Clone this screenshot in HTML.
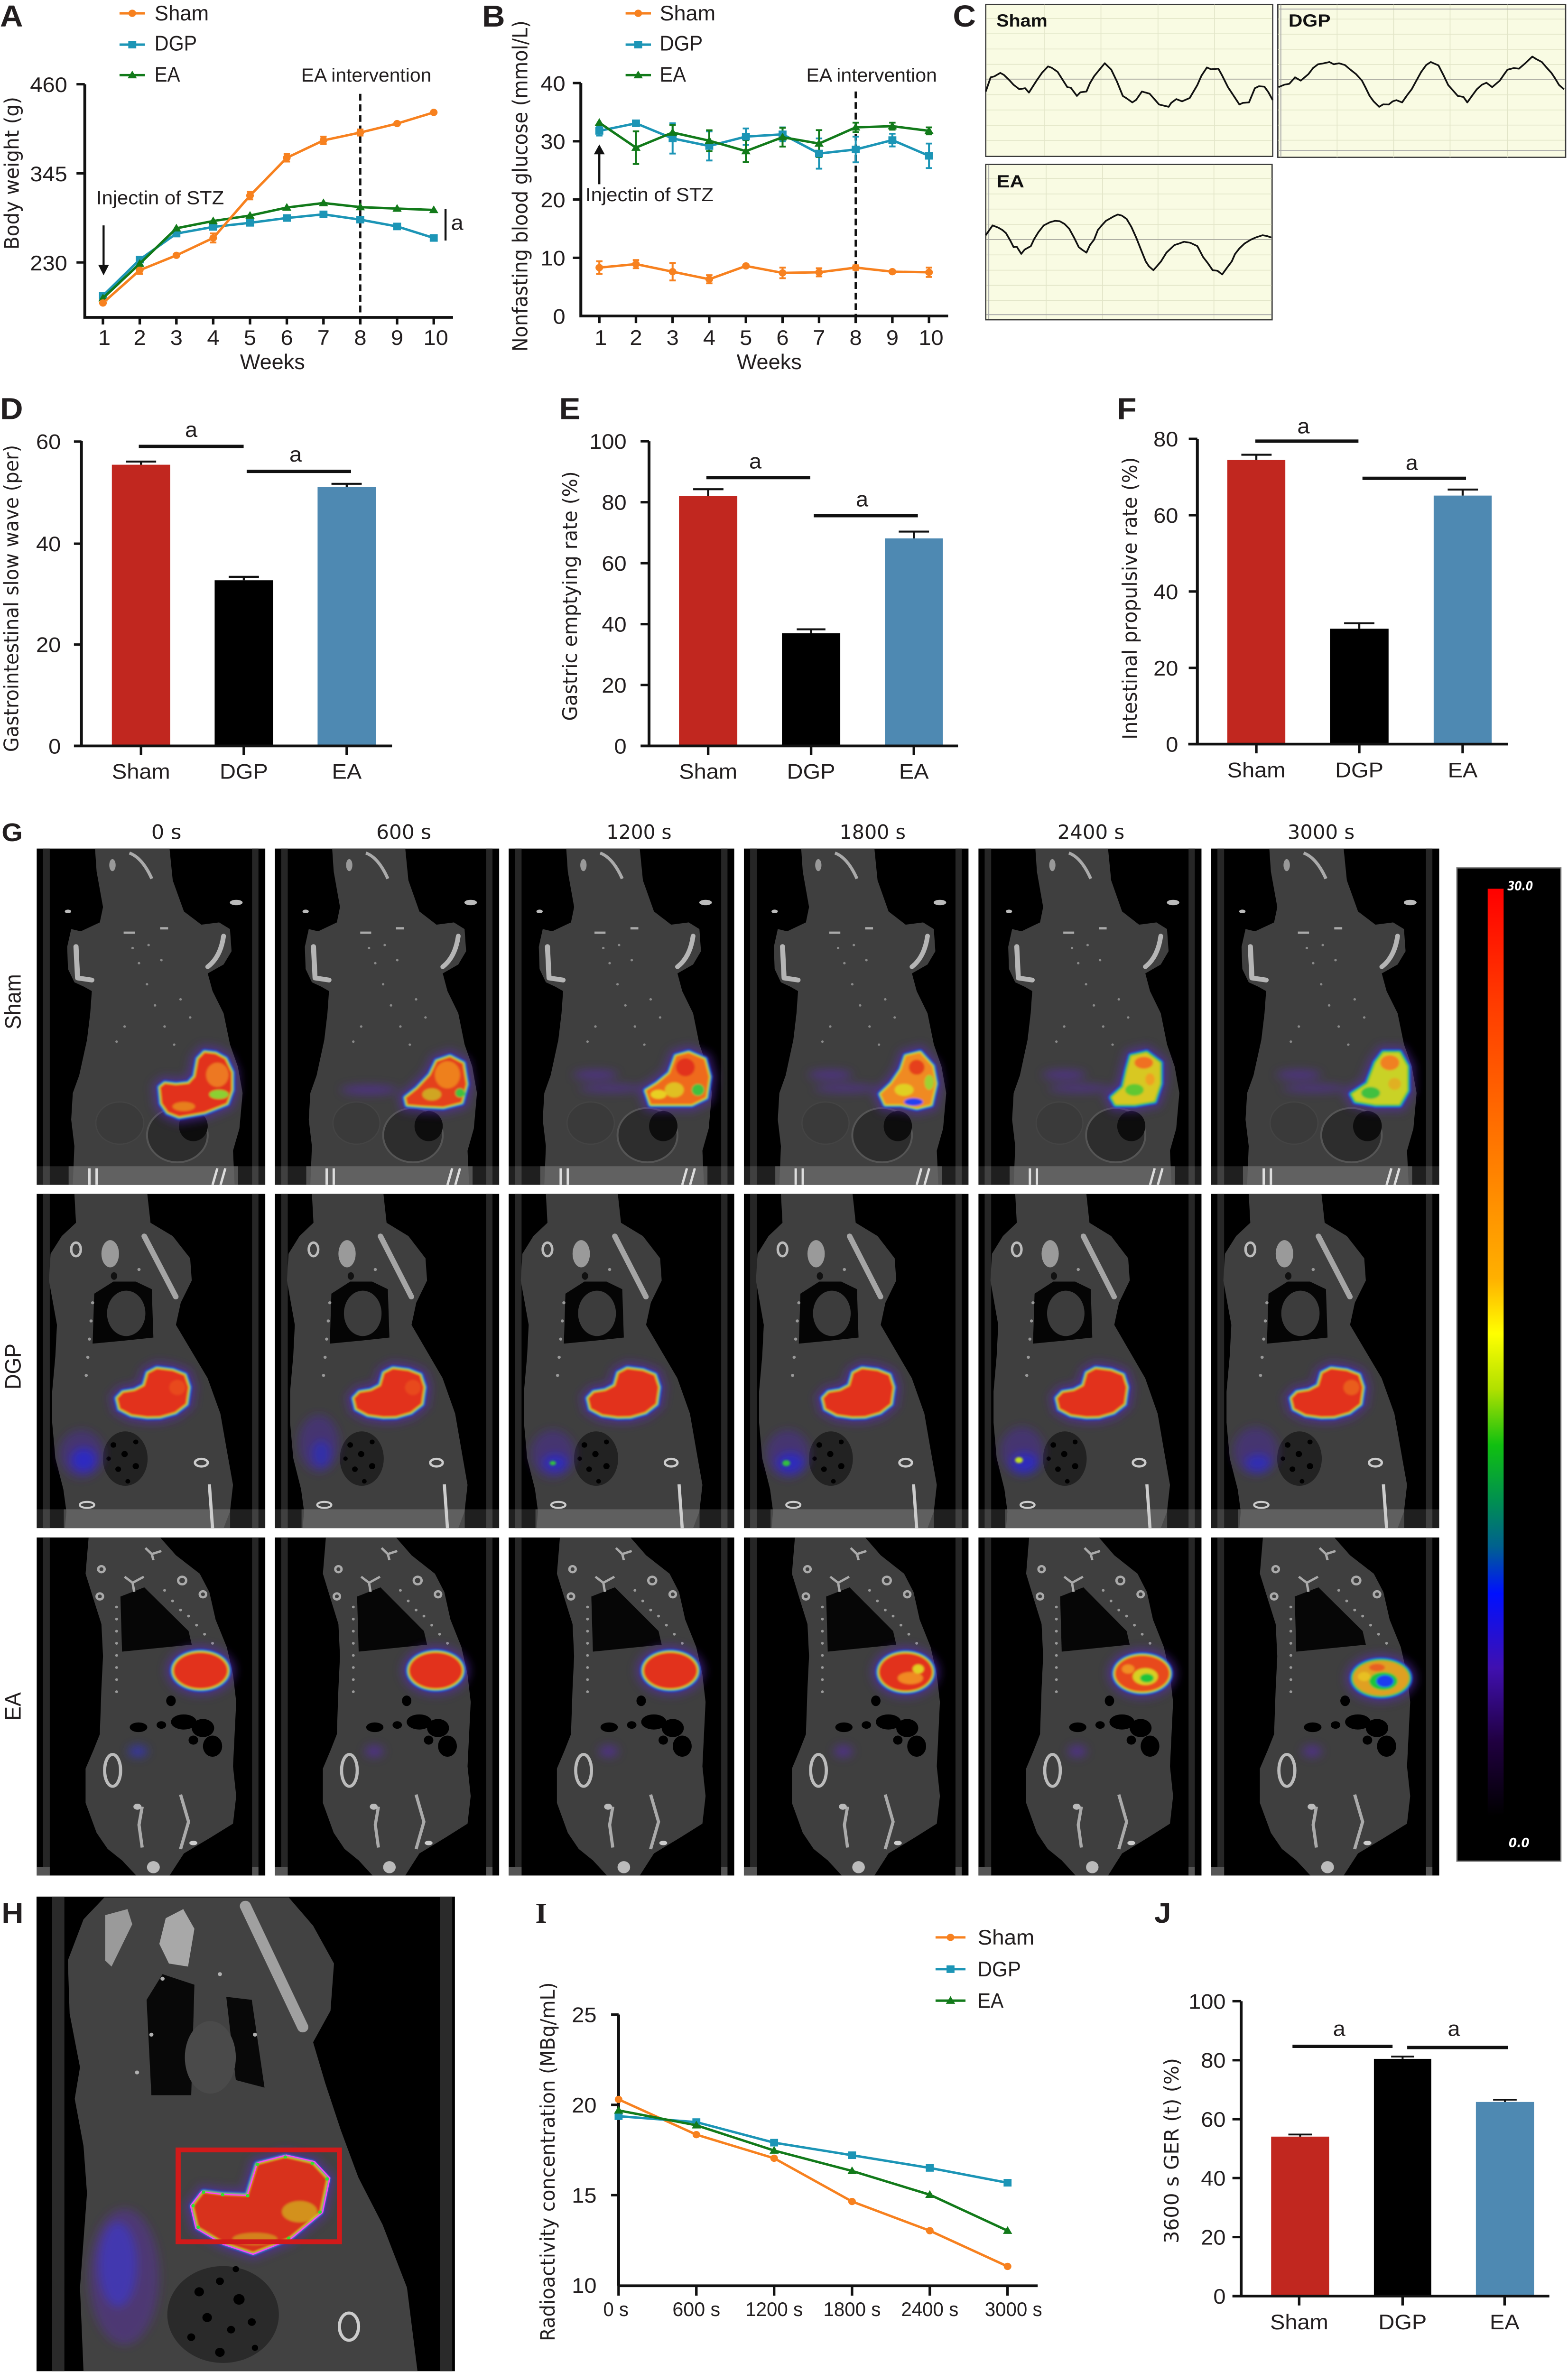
<!DOCTYPE html>
<html><head><meta charset="utf-8">
<style>
html,body{margin:0;padding:0;width:100%;height:100%;overflow:hidden;background:#fff}
svg.main{display:block;position:fixed;left:0;top:0;width:100vw;height:100vh}
.t{font-family:"Liberation Sans",Arial,sans-serif;fill:#221e1f}
.v{font-family:"DejaVu Sans",Verdana,sans-serif;fill:#221e1f}
.pl{font-family:"Liberation Sans",Arial,sans-serif;font-weight:bold;fill:#221e1f}
</style></head>
<body>
<svg class="main" xmlns="http://www.w3.org/2000/svg" xmlns:xlink="http://www.w3.org/1999/xlink" viewBox="0 0 984 1568" preserveAspectRatio="none">
<defs>
<filter id="f1" x="-30%" y="-30%" width="160%" height="160%"><feGaussianBlur stdDeviation="0.7"/></filter>
<filter id="f2" x="-60%" y="-60%" width="220%" height="220%"><feGaussianBlur stdDeviation="3"/></filter>
<marker id="mO" viewBox="-4 -4 8 8" markerWidth="8" markerHeight="8" markerUnits="userSpaceOnUse" overflow="visible"><circle r="2.4" fill="#f7811f"/></marker>
<marker id="mB" viewBox="-4 -4 8 8" markerWidth="8" markerHeight="8" markerUnits="userSpaceOnUse" overflow="visible"><rect x="-2.5" y="-2.5" width="5" height="5" fill="#1c95b6"/></marker>
<marker id="mG" viewBox="-4 -4 8 8" markerWidth="8" markerHeight="8" markerUnits="userSpaceOnUse" overflow="visible"><polygon points="0,-3 2.9,2.1 -2.9,2.1" fill="#127a1a"/></marker>
<linearGradient id="cb" x1="0" y1="0" x2="0" y2="1">
<stop offset="0" stop-color="#ff0000"/><stop offset=".12" stop-color="#ff3a00"/><stop offset=".3" stop-color="#ff8000"/>
<stop offset=".42" stop-color="#ffb000"/><stop offset=".48" stop-color="#ffff00"/><stop offset=".54" stop-color="#b0e000"/>
<stop offset=".6" stop-color="#10c010"/><stop offset=".66" stop-color="#009050"/><stop offset=".71" stop-color="#006090"/>
<stop offset=".76" stop-color="#0010ff"/><stop offset=".84" stop-color="#4010b0"/><stop offset=".92" stop-color="#200040"/>
<stop offset="1" stop-color="#000"/>
</linearGradient>
<clipPath id="cS"><rect width="143" height="223"/></clipPath>
<clipPath id="cD"><rect width="143" height="221"/></clipPath>
<clipPath id="cE"><rect width="143" height="223.5"/></clipPath>
<clipPath id="cH"><rect x="22.9" y="1253.7" width="262.6" height="313.8"/></clipPath>

<!-- Sham body -->
<g id="bS">
<rect width="143" height="223" fill="#000"/>
<rect x="4" width="4.2" height="223" fill="#262626"/><rect x="134.7" width="4" height="223" fill="#262626"/>
<polygon fill="#3f3f3f" points="36.5,0 37.5,15.3 41.5,38.8 39.5,49 27.6,54.9 21.6,53.4 19.1,65.2 19.6,79.9 23.6,88.7 29.6,91.6 34.5,94.5 33.5,109.2 31.5,126.8 26.6,150.4 22.6,162.1 21.6,179.7 23.6,197.3 22.6,223 123.8,223 122.8,200.3 126.8,185.6 128.8,162.1 125.8,144.5 120.9,129.8 116.9,109.2 110,94.5 107,82.8 116.9,76.9 121.9,68.1 120.9,53.4 114.1,49 103,50.5 92.1,41.7 85.1,21.1 83.1,0"/>
<rect y="210.6" width="143" height="12.4" fill="#fff" opacity=".12"/>
<rect x="20" y="210.6" width="106" height="12.4" fill="#666" opacity=".75"/>
<path d="M24.6,65 L25.6,85.8 L34.5,87.2" stroke="#b5b5b5" stroke-width="3.2" fill="none" stroke-linecap="round" stroke-linejoin="round"/>
<path d="M116.9,58 Q115,72 107,78.4" stroke="#b5b5b5" stroke-width="3" fill="none" stroke-linecap="round"/>
<ellipse cx="19.6" cy="41.7" rx="2" ry="1.2" fill="#bbb"/><ellipse cx="124.8" cy="35.8" rx="4" ry="1.8" fill="#bbb"/>
<ellipse cx="47.4" cy="11" rx="2" ry="4" fill="#999"/>
<path d="M58,3 Q66,6 72,20" stroke="#aaa" stroke-width="2" fill="none"/>
<path d="M54.4,55.8h7 M77.2,52.9h5" stroke="#aaa" stroke-width="1.5"/>
<g fill="#8a8a8a"><circle cx="60" cy="66" r=".8"/><circle cx="64" cy="76" r=".8"/><circle cx="69" cy="90" r=".8"/><circle cx="74" cy="104" r=".8"/><circle cx="80" cy="118" r=".8"/><circle cx="86" cy="130" r=".8"/><circle cx="70" cy="64" r=".8"/><circle cx="78" cy="74" r=".8"/><circle cx="90" cy="100" r=".8"/><circle cx="96" cy="112" r=".8"/><circle cx="55" cy="118" r=".8"/><circle cx="50" cy="128" r=".8"/></g>
<ellipse cx="88" cy="190" rx="19" ry="18" fill="#2d2d2d" stroke="#555" stroke-width="1.2"/>
<ellipse cx="98" cy="184" rx="9" ry="10" fill="#0d0d0d"/>
<ellipse cx="52" cy="182" rx="15" ry="14" fill="#3a3a3a" stroke="#444" stroke-width="0.8"/>
<path d="M33,212v11M37.5,212v11M113,212l-3,11M118,212l-3,11" stroke="#ddd" stroke-width="1.5"/>
</g>

<!-- DGP body -->
<g id="bD">
<rect width="143" height="221" fill="#000"/>
<rect x="4" width="4.2" height="221" fill="#262626"/><rect x="134.7" width="4" height="221" fill="#262626"/>
<polygon fill="#3f3f3f" points="23.6,0 24.6,19.1 15.7,27.9 8.7,39.6 7.7,57.3 10.7,74.9 12.7,86.6 11.7,107.2 9.7,130.7 9.7,151.2 11.7,174.7 16.7,195.3 18.6,210 17.7,221 116.9,221 120.9,210 122.8,192.4 119.8,174.7 114.9,145.3 106.9,121.8 97,104.2 87.1,86.6 90.1,72 97,57.3 96,42.6 85.1,27.9 71.2,19.1 69.2,0"/>
<polygon fill="#050505" points="36,66 48,58 62,58 72,63 73,95 55,97 35,99"/>
<ellipse cx="56" cy="79" rx="12" ry="15" fill="#3c3c3c"/>
<ellipse cx="24.6" cy="36.7" rx="3" ry="4.5" stroke="#bbb" stroke-width="1.6" fill="none"/>
<ellipse cx="46" cy="39.6" rx="5.5" ry="9" fill="#9a9a9a"/>
<ellipse cx="48.4" cy="54.3" rx="2" ry="2.5" fill="#111"/>
<path d="M67.3,28 L87,68" stroke="#a5a5a5" stroke-width="3.5" stroke-linecap="round"/>
<g fill="#999"><circle cx="35" cy="72" r="1"/><circle cx="34" cy="84" r="1"/><circle cx="33" cy="96" r="1"/><circle cx="32" cy="108" r="1"/><circle cx="31" cy="120" r="1"/><circle cx="64" cy="50" r="1"/></g>
<ellipse cx="55.4" cy="175" rx="14" ry="18" fill="#222"/>
<g fill="#000"><circle cx="48" cy="166" r="1.8"/><circle cx="55" cy="172" r="2"/><circle cx="62" cy="164" r="1.6"/><circle cx="51" cy="182" r="1.8"/><circle cx="62" cy="180" r="2"/><circle cx="57" cy="190" r="1.5"/><circle cx="45" cy="175" r="1.4"/></g>
<ellipse cx="103" cy="177.7" rx="4" ry="2.5" stroke="#ccc" stroke-width="1.5" fill="none"/>
<rect y="208.5" width="143" height="12.5" fill="#fff" opacity=".12"/>
<rect x="17" y="208.5" width="104" height="12.5" fill="#666" opacity=".6"/>
<ellipse cx="31.5" cy="205.6" rx="4.5" ry="2" stroke="#ccc" stroke-width="1.3" fill="none"/>
<path d="M108,192 L110,221" stroke="#ccc" stroke-width="2"/>
</g>

<!-- EA body -->
<g id="bE">
<rect width="143" height="223.5" fill="#000"/>
<rect x="4" width="4.2" height="223.5" fill="#262626"/><rect x="134.7" width="4" height="223.5" fill="#262626"/>
<polygon fill="#3f3f3f" points="32.5,0 30.6,24 35.5,40.6 40.5,57.3 41.5,78.5 40.5,99.8 39.5,130.1 35.5,140.7 30.6,152.8 30.6,175.5 37.5,195.3 44.4,205.9 53.4,213.5 62.3,223.5 83.1,223.5 92.1,208.9 108.9,198.3 122.8,189.2 124.8,171 122.8,151.3 123.8,130.1 124.8,108.8 122.8,90.7 118.9,72.5 111.9,54.3 108,36.1 102,24 87.1,11.8 77.2,0"/>
<polygon fill="#060606" points="52.4,39.1 67.3,33 95,61.9 97,70.9 53.4,75.5"/>
<g stroke="#aaa" stroke-width="1.5" fill="none"><circle cx="40.5" cy="21" r="2"/><circle cx="39.5" cy="39" r="2"/><circle cx="91" cy="28.5" r="2.5"/><circle cx="104" cy="37.6" r="2"/><path d="M55,26 L60,30 L67,26 M60,30 L61,36"/><path d="M68,7 L72,11 L78,9 M72,11 L73,15"/></g>
<g fill="#999"><circle cx="50" cy="46" r=".9"/><circle cx="50" cy="54" r=".9"/><circle cx="50" cy="62" r=".9"/><circle cx="50" cy="70" r=".9"/><circle cx="50" cy="78" r=".9"/><circle cx="50" cy="86" r=".9"/><circle cx="50" cy="94" r=".9"/><circle cx="50" cy="102" r=".9"/><circle cx="80" cy="35" r=".9"/><circle cx="85" cy="42" r=".9"/><circle cx="90" cy="48" r=".9"/><circle cx="95" cy="52" r=".9"/><circle cx="100" cy="58" r=".9"/><circle cx="105" cy="64" r=".9"/><circle cx="110" cy="70" r=".9"/></g>
<g fill="#000"><ellipse cx="63.7" cy="125.5" rx="5.5" ry="3.2"/><ellipse cx="92" cy="122" rx="8" ry="5"/><ellipse cx="104" cy="126" rx="7" ry="6"/><ellipse cx="110" cy="138" rx="6" ry="7"/><ellipse cx="98" cy="134" rx="3" ry="3"/><ellipse cx="84" cy="108" rx="3" ry="3.5"/><ellipse cx="78" cy="124" rx="3" ry="2.5"/></g>
<ellipse cx="47.5" cy="154" rx="5" ry="10.5" stroke="#bbb" stroke-width="2" fill="none"/>
<path d="M90,170 L95,188 L90,206 M66,178 L64,190 L66,205" stroke="#aaa" stroke-width="2" fill="none"/>
<ellipse cx="63" cy="178" rx="2.5" ry="2" fill="#bbb"/><ellipse cx="98" cy="202" rx="2.5" ry="1.5" fill="#ccc"/><ellipse cx="73" cy="218" rx="4" ry="4" fill="#bbb"/>
<rect y="218" width="8.2" height="5.5" fill="#555"/><rect x="134.7" y="218" width="4" height="5.5" fill="#555"/>
</g>

<!-- blob shapes -->
<path id="s1" d="M77.2,158.3 L80.2,155.7 87.1,156.6 95.1,155.7 99,151.2 101,139.5 105,135.1 111.9,136 117.9,139.5 121.9,148.4 121.9,160.1 118.9,168.9 111.9,171.9 105,174.8 97,176.3 89.1,177.7 82.1,174.8 78.2,168.9Z"/>
<path id="s2" d="M83.4,165.2 L90.7,159.2 99,150.1 103.2,141 111.6,138 119.9,142.5 122,156.2 118.9,168.3 107.4,171.3 94.8,170.7 84.4,169.8Z"/>
<path id="s3" d="M87.1,160.5 L94.1,155.9 102.1,149 106.1,137.6 114.1,135.3 124.1,139.8 127,151.3 125,165 116,169.6 102.1,169.6 90.1,169.6Z"/>
<path id="s4" d="M87.1,162.8 L94.1,155.9 100.1,146.7 103.1,137.6 112.1,135.3 120,144.4 122,155.9 119,169.6 110.1,171.9 100.1,169.6 90.1,169.6Z"/>
<path id="s5" d="M85.5,165 L92.9,158.2 95.4,146.7 97.9,137.6 107.8,135.3 116.5,142.1 116.5,155.9 112.8,167.4 100.4,169.6 88,169.6Z"/>
<path id="s6" d="M88.2,162.8 L98.1,155.9 103.1,142.1 108,135.3 118,135.3 122.9,144.4 122.9,160.5 118,169.6 103.1,169.6 90.6,167.4Z"/>
<path id="dg" d="M50.4,135.1 L54,131.2 61.3,130 67.3,126.8 69.6,118.5 75.2,115.5 85.1,116.8 92.5,119.8 95,127.8 93.5,138.8 86.6,144.4 77.2,147.2 69.2,147.4 59.3,146 52,142Z"/>
<ellipse id="e1" cx="102.5" cy="88" rx="17" ry="12"/>
<ellipse id="e4" cx="103" cy="89" rx="17" ry="12.5"/>
<ellipse id="e5" cx="105" cy="90" rx="17.5" ry="12"/>
<ellipse id="e6" cx="106.5" cy="93" rx="17.5" ry="11.5"/>
<path id="hb" d="M121.2,1458.1 L127.7,1449.2 139.7,1450.8 155.4,1451.5 161.5,1430.7 179,1425.9 196,1430 205.2,1440.4 200.8,1462.3 181.2,1479.5 158.9,1488.9 140.8,1482.5 124.4,1472.3Z"/>
</defs>

<!-- ============ A ============ -->
<text class="pl" x="0" y="17.5" font-size="20">A</text>
<g stroke-width="1.6">
<line x1="75" y1="8.8" x2="91" y2="8.8" stroke="#f7811f"/><circle cx="83" cy="8.8" r="2.4" fill="#f7811f"/>
<line x1="75" y1="29.5" x2="91" y2="29.5" stroke="#1c95b6"/><rect x="80.5" y="27" width="5" height="5" fill="#1c95b6"/>
<line x1="75" y1="49.7" x2="91" y2="49.7" stroke="#127a1a"/><polygon points="83,46.7 85.9,51.8 80.1,51.8" fill="#127a1a"/>
</g>
<text class="t" x="97" y="13.5" font-size="14" textLength="34" lengthAdjust="spacingAndGlyphs">Sham</text>
<text class="t" x="97" y="33.4" font-size="14" textLength="26.6" lengthAdjust="spacingAndGlyphs">DGP</text>
<text class="t" x="97" y="54" font-size="14" textLength="16" lengthAdjust="spacingAndGlyphs">EA</text>
<path d="M53.2,55.7 V209.8 H284.3" stroke="#111" stroke-width="1.8" fill="none"/>
<path d="M48,55.7H53.2M48,114.6H53.2M48,173.5H53.2 M64.6,209.8V214.5M87.7,209.8V214.5M110.7,209.8V214.5M133.8,209.8V214.5M156.9,209.8V214.5M180,209.8V214.5M203,209.8V214.5M226.1,209.8V214.5M249.2,209.8V214.5M272.2,209.8V214.5" stroke="#111" stroke-width="1.6"/>
<g class="t" font-size="14" text-anchor="end"><text x="42.2" y="60.9">460</text><text x="42.2" y="119.8">345</text><text x="42.2" y="178.7">230</text></g>
<g class="t" font-size="14" text-anchor="middle"><text x="65.5" y="228">1</text><text x="87.7" y="228">2</text><text x="110.7" y="228">3</text><text x="133.8" y="228">4</text><text x="156.9" y="228">5</text><text x="180" y="228">6</text><text x="203" y="228">7</text><text x="226.1" y="228">8</text><text x="249.2" y="228">9</text><text x="273.5" y="228">10</text></g>
<text class="t" x="171" y="244" font-size="14" text-anchor="middle" textLength="40.8" lengthAdjust="spacingAndGlyphs">Weeks</text>
<text class="v" transform="translate(11.7,114.5) rotate(-90)" font-size="12.5" text-anchor="middle" textLength="101" lengthAdjust="spacingAndGlyphs">Body weight (g)</text>
<line x1="226.1" y1="62" x2="226.1" y2="209.8" stroke="#111" stroke-width="1.4" stroke-dasharray="4.5,2.5"/>
<text class="t" x="189" y="54" font-size="12.5" textLength="81.7" lengthAdjust="spacingAndGlyphs">EA intervention</text>
<text class="t" x="60.4" y="135" font-size="12.5" textLength="80.2" lengthAdjust="spacingAndGlyphs">Injectin of STZ</text>
<line x1="65" y1="149" x2="65" y2="176" stroke="#111" stroke-width="1.3"/><polygon points="61.6,175 68.4,175 65,182" fill="#111"/>
<line x1="279.6" y1="138" x2="279.6" y2="159" stroke="#111" stroke-width="1.3"/>
<text class="t" x="283" y="152" font-size="14">a</text>
<path d="M87.7,176.1V181.1M85.7,176.1h4M85.7,181.1h4 M133.8,154.3V160.3M131.8,154.3h4M131.8,160.3h4 M156.9,126.8V131.8M154.9,126.8h4M154.9,131.8h4 M180,101.8V106.8M178,101.8h4M178,106.8h4 M203,90.3V95.3M201,90.3h4M201,95.3h4 M226.1,85.6V89.6M224.1,85.6h4M224.1,89.6h4" stroke="#f7811f" stroke-width="1.2" fill="none"/>
<polyline fill="none" stroke="#1c95b6" stroke-width="1.6" marker-start="url(#mB)" marker-mid="url(#mB)" marker-end="url(#mB)" points="64.6,195.5 87.7,171.6 110.7,154.4 133.8,150 156.9,147.3 180,144.1 203,141.7 226.1,145.2 249.2,149.7 272.2,157.3"/>
<polyline fill="none" stroke="#127a1a" stroke-width="1.6" marker-start="url(#mG)" marker-mid="url(#mG)" marker-end="url(#mG)" points="64.6,197.1 87.7,174.3 110.7,150.9 133.8,146.1 156.9,142.5 180,137.2 203,134.2 226.1,136.9 249.2,137.9 272.2,138.8"/>
<polyline fill="none" stroke="#f7811f" stroke-width="1.6" marker-start="url(#mO)" marker-mid="url(#mO)" marker-end="url(#mO)" points="64.6,200.3 87.7,178.6 110.7,168.8 133.8,157.3 156.9,129.3 180,104.3 203,92.8 226.1,87.6 249.2,81.7 272.2,74.3"/>

<!-- ============ B ============ -->
<text class="pl" x="302.5" y="17.5" font-size="20">B</text>
<g stroke-width="1.6">
<line x1="392.6" y1="8.8" x2="408.5" y2="8.8" stroke="#f7811f"/><circle cx="400.5" cy="8.8" r="2.4" fill="#f7811f"/>
<line x1="392.6" y1="29.5" x2="408.5" y2="29.5" stroke="#1c95b6"/><rect x="398" y="27" width="5" height="5" fill="#1c95b6"/>
<line x1="392.6" y1="49.7" x2="408.5" y2="49.7" stroke="#127a1a"/><polygon points="400.5,46.7 403.4,51.8 397.6,51.8" fill="#127a1a"/>
</g>
<text class="t" x="414" y="13.5" font-size="14" textLength="35" lengthAdjust="spacingAndGlyphs">Sham</text>
<text class="t" x="414" y="33.4" font-size="14" textLength="27" lengthAdjust="spacingAndGlyphs">DGP</text>
<text class="t" x="414" y="54" font-size="14" textLength="16.5" lengthAdjust="spacingAndGlyphs">EA</text>
<path d="M364.5,54.9 V208.9 H595" stroke="#111" stroke-width="1.8" fill="none"/>
<path d="M359.5,54.9H364.5M359.5,93.4H364.5M359.5,131.9H364.5M359.5,170.4H364.5 M376.1,208.9V213.6M399.1,208.9V213.6M422.1,208.9V213.6M445.1,208.9V213.6M468.1,208.9V213.6M491.1,208.9V213.6M514,208.9V213.6M537,208.9V213.6M560,208.9V213.6M583,208.9V213.6" stroke="#111" stroke-width="1.6"/>
<g class="t" font-size="14" text-anchor="end"><text x="354.8" y="60">40</text><text x="354.8" y="98.5">30</text><text x="354.8" y="137">20</text><text x="354.8" y="175.5">10</text><text x="354.8" y="214">0</text></g>
<g class="t" font-size="14" text-anchor="middle"><text x="377" y="228">1</text><text x="399.1" y="228">2</text><text x="422.1" y="228">3</text><text x="445.1" y="228">4</text><text x="468.1" y="228">5</text><text x="491.1" y="228">6</text><text x="514" y="228">7</text><text x="537" y="228">8</text><text x="560" y="228">9</text><text x="584.3" y="228">10</text></g>
<text class="t" x="482.7" y="244" font-size="14" text-anchor="middle" textLength="40.8" lengthAdjust="spacingAndGlyphs">Weeks</text>
<text class="v" transform="translate(331,123) rotate(-90)" font-size="13" text-anchor="middle" textLength="218.9" lengthAdjust="spacingAndGlyphs">Nonfasting blood glucose (mmol/L)</text>
<line x1="537" y1="60.5" x2="537" y2="208.9" stroke="#111" stroke-width="1.4" stroke-dasharray="4.5,2.5"/>
<text class="t" x="506" y="54" font-size="12.5" textLength="82" lengthAdjust="spacingAndGlyphs">EA intervention</text>
<text class="t" x="367.4" y="133" font-size="12.5" textLength="80.4" lengthAdjust="spacingAndGlyphs">Injectin of STZ</text>
<line x1="376.1" y1="121.8" x2="376.1" y2="101" stroke="#111" stroke-width="1.3"/><polygon points="372.7,102 379.5,102 376.1,95.5" fill="#111"/>
<path d="M376.1,172.7V181.1M374.1,172.7h4M374.1,181.1h4 M399.1,171.9V177.3M397.1,171.9h4M397.1,177.3h4 M422.1,173.8V185.4M420.1,173.8h4M420.1,185.4h4 M445.1,181.9V187.3M443.1,181.9h4M443.1,187.3h4 M491.1,176.9V183.9M489.1,176.9h4M489.1,183.9h4 M514,177.3V182.7M512,177.3h4M512,182.7h4 M537,175.4V178.4M535,175.4h4M535,178.4h4 M583,176.9V183.1M581,176.9h4M581,183.1h4" stroke="#f7811f" stroke-width="1.2" fill="none"/>
<path d="M376.1,83.4V89.6M374.1,83.4h4M374.1,89.6h4 M422.1,81.5V101.5M420.1,81.5h4M420.1,101.5h4 M445.1,86.9V106.1M443.1,86.9h4M443.1,106.1h4 M468.1,84.9V95.7M466.1,84.9h4M466.1,95.7h4 M491.1,84.2V93.4M489.1,84.2h4M489.1,93.4h4 M514,91.5V111.5M512,91.5h4M512,111.5h4 M537,90.3V107.3M535,90.3h4M535,107.3h4 M560,88.4V96.8M558,88.4h4M558,96.8h4 M583,94.9V111.1M581,94.9h4M581,111.1h4" stroke="#1c95b6" stroke-width="1.2" fill="none"/>
<path d="M399.1,86.8V108.4M397.1,86.8h4M397.1,108.4h4 M422.1,82.6V92.6M420.1,82.6h4M420.1,92.6h4 M445.1,86.1V99.9M443.1,86.1h4M443.1,99.9h4 M468.1,92.6V107.2M466.1,92.6h4M466.1,107.2h4 M491.1,84.5V96.9M489.1,84.5h4M489.1,96.9h4 M514,86V103.8M512,86h4M512,103.8h4 M537,81.1V87.3M535,81.1h4M535,87.3h4 M560,81.1V85.7M558,81.1h4M558,85.7h4 M583,84.2V88.8M581,84.2h4M581,88.8h4" stroke="#127a1a" stroke-width="1.2" fill="none"/>
<polyline fill="none" stroke="#f7811f" stroke-width="1.6" marker-start="url(#mO)" marker-mid="url(#mO)" marker-end="url(#mO)" points="376.1,176.9 399.1,174.6 422.1,179.6 445.1,184.6 468.1,175.8 491.1,180.4 514,180 537,176.9 560,179.6 583,180"/>
<polyline fill="none" stroke="#1c95b6" stroke-width="1.6" marker-start="url(#mB)" marker-mid="url(#mB)" marker-end="url(#mB)" points="376.1,86.5 399.1,81.5 422.1,91.5 445.1,96.5 468.1,90.3 491.1,88.8 514,101.5 537,98.8 560,92.6 583,103"/>
<polyline fill="none" stroke="#127a1a" stroke-width="1.6" marker-start="url(#mG)" marker-mid="url(#mG)" marker-end="url(#mG)" points="376.1,81.1 399.1,97.6 422.1,87.6 445.1,93 468.1,99.9 491.1,90.7 514,94.9 537,84.2 560,83.4 583,86.5"/>

<!-- ============ C ============ -->
<text class="pl" x="598" y="17.5" font-size="20">C</text>
<g>
<rect x="618.6" y="2.9" width="180.1" height="100.5" fill="#f9fbe3" stroke="#3a3a3a" stroke-width="0.8"/>
<path d="M655.3,3V103M690.9,3V103M726.7,3V103M762.2,3V103 M619,12.2H798M619,22.3H798M619,32.4H798M619,42.5H798M619,62.6H798M619,72.7H798M619,82.8H798M619,92.9H798" stroke="#e2e5c8" stroke-width="0.5"/>
<line x1="619" y1="52.3" x2="798" y2="52.3" stroke="#a8a8a0" stroke-width="0.6"/>
<text x="625.3" y="17.6" font-family="Liberation Sans,Arial,sans-serif" font-weight="bold" font-size="11.5" fill="#111" textLength="32" lengthAdjust="spacingAndGlyphs">Sham</text>
<polyline fill="none" stroke="#111" stroke-width="1.1" stroke-linejoin="round" points="618.6,60.5 621.7,51.1 624,50.5 627.7,48.2 630,49.5 633.7,53.3 636,56 639.7,59 643.3,58.3 645.7,61.2 650.5,53.3 654,48 657.7,43.9 660,44.8 663.7,47.5 667,53 669.8,57.6 672,58 675.8,63.4 678,61 681.8,60.5 684,55 686.6,50.4 690,46 693.3,41.8 697.4,46.1 701,54 704.6,63.4 707,65 710.6,67.7 713,66 716.6,60.5 721.4,61.9 724,65 727.4,69.1 733.4,70.6 735,68 738.2,65.5 741.8,67 746.6,64.8 751.4,56.2 754,50 757.4,44.6 760,45.8 764.6,45.4 767,50 770.6,57.6 774,63 777.8,69.1 780,68 783.8,67.7 787.5,58.3 790,57 793.5,57.3 796,61 798.7,66.2"/>
</g>
<g>
<rect x="801.9" y="2.9" width="180.6" height="101.1" fill="#f9fbe3" stroke="#3a3a3a" stroke-width="0.8"/>
<path d="M839.1,3V104M874.6,3V104M910,3V104M946,3V104 M802,12.6H982M802,22.6H982M802,32.6H982M802,42.6H982M802,62.7H982M802,72.7H982M802,82.7H982M802,92.7H982" stroke="#e2e5c8" stroke-width="0.5"/>
<path d="M802,6H982M802,99.4H982M803.8,3V104" stroke="#aaa" stroke-width="0.6"/>
<line x1="802" y1="52.7" x2="982" y2="52.7" stroke="#a8a8a0" stroke-width="0.6"/>
<text x="808.6" y="17.6" font-family="Liberation Sans,Arial,sans-serif" font-weight="bold" font-size="11.5" fill="#111" textLength="26.4" lengthAdjust="spacingAndGlyphs">DGP</text>
<polyline fill="none" stroke="#111" stroke-width="1.1" stroke-linejoin="round" points="802.3,57.6 806,56 809.1,55.4 812.7,51.1 816.3,53.3 821.1,49 824,45 827.1,42.5 830,42 834.3,41 837,42.5 840.3,41.8 844,43 847.5,46.1 851,49 854.7,53.3 857,58 859.5,63.4 862,67 865.5,70.6 868,69 871.5,69.1 874,67 876.3,66.2 879.9,67.7 883,63 885.9,59 889,53 891.9,47.5 895,43 897.9,41 900,42 902.7,43.2 906,50 908.8,56.2 912,60 914.8,63.4 918.4,64.1 920.8,67.7 924,63 926.8,59 930,56 932.8,54.7 936.4,57.6 941.2,53.3 944,49 946,46.1 950,45 953.2,45.4 957,42 961.6,37.4 964,39 967.6,41 970,44 973.6,48.2 976,52 978.4,56.2 981.5,59"/>
</g>
<g>
<rect x="618.6" y="108.7" width="179.7" height="102.7" fill="#f9fbe3" stroke="#3a3a3a" stroke-width="0.8"/>
<path d="M656.5,109V211M691.9,109V211M726.7,109V211M761.8,109V211 M619,118H798M619,128.2H798M619,138.2H798M619,148.3H798M619,168.5H798M619,178.6H798M619,188.6H798M619,198.7H798" stroke="#e2e5c8" stroke-width="0.5"/>
<path d="M619,208H798M620.5,109V211" stroke="#aaa" stroke-width="0.6"/>
<line x1="619" y1="158.4" x2="798" y2="158.4" stroke="#a8a8a0" stroke-width="0.6"/>
<text x="625.3" y="123.8" font-family="Liberation Sans,Arial,sans-serif" font-weight="bold" font-size="11.5" fill="#111" textLength="17.5" lengthAdjust="spacingAndGlyphs">EA</text>
<polyline fill="none" stroke="#111" stroke-width="1.1" stroke-linejoin="round" points="618.6,155.5 622.9,149 626.5,150.5 629,152 631.3,154.1 634,159 636.1,163.4 638,163 640.9,167.8 643,165 646.9,162.7 649,158 651.7,153.4 655,149 658.9,146.9 662,146 665,146.2 668,148 671,151.2 674,157 677,163.4 679,165 681.8,167 684,162 686.6,158.4 689,152 691.4,149 694,146 696.2,144.7 699,143 701.5,141.8 704,142.5 707,144.7 710,150 713,157 716,165 719,172.8 721,176 723.8,178.6 726,176 728.6,172.8 732,167 737,162 740,161 743,159.8 747,160.5 751.4,162.7 755,169.9 758,174 761,178.6 764,179 767,181.4 770,177 773,172.8 775,168 777.8,164.2 781,161 785,158.4 788,157 792.3,155.5 795,156 797.8,157"/>
</g>

<!-- ============ D ============ -->
<text class="pl" x="0" y="277" font-size="20">D</text>
<rect x="70.2" y="307.2" width="36.6" height="185.9" fill="#c1271f"/>
<rect x="134.7" y="383.6" width="36.7" height="109.5" fill="#000"/>
<rect x="199.3" y="321.9" width="36.6" height="171.2" fill="#4e89b2"/>
<path d="M88.5,307.2V305.1M79,305.1H98 M153,383.6V381.3M143.5,381.3H162.5 M217.6,321.9V319.8M208,319.8H227" stroke="#111" stroke-width="1.3"/>
<path d="M51.1,291.4V493.1 M46.4,493.1H246" stroke="#111" stroke-width="1.8" fill="none"/>
<path d="M46.4,291.9H51.1M46.4,359.4H51.1M46.4,426.1H51.1 M88.5,493.1V499M153,493.1V499M217.6,493.1V499" stroke="#111" stroke-width="1.6"/>
<g class="t" font-size="14" text-anchor="end"><text x="38.2" y="296.9">60</text><text x="38.2" y="364.4">40</text><text x="38.2" y="431.1">20</text><text x="38.2" y="498.1">0</text></g>
<g class="t" font-size="14" text-anchor="middle"><text x="88.5" y="514.8">Sham</text><text x="153" y="514.8">DGP</text><text x="217.6" y="514.8">EA</text></g>
<path d="M87.1,295.1H152.9M154.8,311.6H220.3" stroke="#111" stroke-width="2.2"/>
<g class="t" font-size="14" text-anchor="middle"><text x="120" y="288.9">a</text><text x="185.5" y="305.1">a</text></g>
<text class="v" transform="translate(11.5,395.6) rotate(-90)" font-size="12.5" text-anchor="middle" textLength="203" lengthAdjust="spacingAndGlyphs">Gastrointestinal slow wave (per)</text>

<!-- ============ E ============ -->
<text class="pl" x="350.9" y="277" font-size="20">E</text>
<rect x="426.1" y="327.8" width="36.6" height="165.3" fill="#c1271f"/>
<rect x="490.7" y="418.6" width="36.6" height="74.5" fill="#000"/>
<rect x="555.3" y="355.9" width="36.4" height="137.2" fill="#4e89b2"/>
<path d="M444.4,327.8V323.4M435,323.4H454 M509,418.6V416M500,416H518 M573.5,355.9V351.4M564,351.4H583" stroke="#111" stroke-width="1.3"/>
<path d="M407.3,291.7V493.1 M402,493.1H601.2" stroke="#111" stroke-width="1.8" fill="none"/>
<path d="M402,291.7H407.3M402,332H407.3M402,372.3H407.3M402,412.6H407.3M402,452.8H407.3 M444.4,493.1V499M509,493.1V499M573.5,493.1V499" stroke="#111" stroke-width="1.6"/>
<g class="t" font-size="14" text-anchor="end"><text x="393.2" y="296.7">100</text><text x="393.2" y="337">80</text><text x="393.2" y="377.3">60</text><text x="393.2" y="417.6">40</text><text x="393.2" y="457.8">20</text><text x="393.2" y="498.1">0</text></g>
<g class="t" font-size="14" text-anchor="middle"><text x="444.4" y="514.8">Sham</text><text x="509" y="514.8">DGP</text><text x="573.5" y="514.8">EA</text></g>
<path d="M443.3,315.7H508.5M510.7,340.9H576" stroke="#111" stroke-width="2.2"/>
<g class="t" font-size="14" text-anchor="middle"><text x="474" y="309.7">a</text><text x="541" y="334.8">a</text></g>
<text class="v" transform="translate(362,394) rotate(-90)" font-size="12.5" text-anchor="middle" textLength="165" lengthAdjust="spacingAndGlyphs">Gastric emptying rate (%)</text>

<!-- ============ F ============ -->
<text class="pl" x="701" y="277" font-size="20">F</text>
<rect x="770.2" y="304.1" width="36.4" height="187.8" fill="#c1271f"/>
<rect x="834.6" y="415.6" width="36.8" height="76.3" fill="#000"/>
<rect x="899.7" y="327.6" width="36.4" height="164.3" fill="#4e89b2"/>
<path d="M788.4,304.1V300.6M779,300.6H798 M853,415.6V412M843.5,412H862.5 M917.9,327.6V323.6M908.5,323.6H927.5" stroke="#111" stroke-width="1.3"/>
<path d="M751.4,290.1V491.9 M745.7,491.9H946.2" stroke="#111" stroke-width="1.8" fill="none"/>
<path d="M746,290.1H751.4M746,340.6H751.4M746,391H751.4M746,441.5H751.4 M788.4,491.9V498M853,491.9V498M917.9,491.9V498" stroke="#111" stroke-width="1.6"/>
<g class="t" font-size="14" text-anchor="end"><text x="739.4" y="295.1">80</text><text x="739.4" y="345.6">60</text><text x="739.4" y="396">40</text><text x="739.4" y="446.5">20</text><text x="739.4" y="496.9">0</text></g>
<g class="t" font-size="14" text-anchor="middle"><text x="788.4" y="513.9">Sham</text><text x="853" y="513.9">DGP</text><text x="917.9" y="513.9">EA</text></g>
<path d="M787.8,291.6H852.5M855,316.2H920" stroke="#111" stroke-width="2.2"/>
<g class="t" font-size="14" text-anchor="middle"><text x="818" y="286.4">a</text><text x="886" y="310.6">a</text></g>
<text class="v" transform="translate(713.3,395.5) rotate(-90)" font-size="12.5" text-anchor="middle" textLength="186.7" lengthAdjust="spacingAndGlyphs">Intestinal propulsive rate (%)</text>

<!-- ============ G ============ -->
<text class="pl" x="1" y="556" font-size="17">G</text>
<g class="v" font-size="13" text-anchor="middle">
<text x="104.4" y="554.6" textLength="18.9" lengthAdjust="spacingAndGlyphs">0 s</text>
<text x="253.4" y="554.6" textLength="34.5" lengthAdjust="spacingAndGlyphs">600 s</text>
<text x="401" y="554.6" textLength="40.9" lengthAdjust="spacingAndGlyphs">1200 s</text>
<text x="547.6" y="554.6" textLength="41.5" lengthAdjust="spacingAndGlyphs">1800 s</text>
<text x="684.6" y="554.6" textLength="42.1" lengthAdjust="spacingAndGlyphs">2400 s</text>
<text x="829" y="554.6" textLength="42.1" lengthAdjust="spacingAndGlyphs">3000 s</text>
</g>
<g class="t" font-size="14" text-anchor="middle">
<text transform="translate(13,662.2) rotate(-90)">Sham</text>
<text transform="translate(13,903.3) rotate(-90)">DGP</text>
<text transform="translate(13,1128) rotate(-90)">EA</text>
</g>

<!-- Row 1 Sham -->
<g transform="translate(23,560.9) scale(1.0035,0.9973)"><g clip-path="url(#cS)"><use xlink:href="#bS"/>
<g filter="url(#f2)" opacity=".6"><use xlink:href="#s1" fill="#5a2ab5" stroke="#5a2ab5" stroke-width="9"/></g>
<g filter="url(#f1)" stroke-linejoin="round"><use xlink:href="#s1" fill="#1d3cf0" stroke="#1d3cf0" stroke-width="4.5"/><use xlink:href="#s1" fill="#1fc43a" stroke="#1fc43a" stroke-width="2.6"/><use xlink:href="#s1" fill="#dfe21f" stroke="#dfe21f" stroke-width="1.2"/><use xlink:href="#s1" fill="#e2321c"/>
<ellipse cx="113" cy="150" rx="7" ry="8" fill="#f08a22" opacity=".8"/><ellipse cx="114" cy="163" rx="6" ry="3" fill="#8bd030"/><ellipse cx="92" cy="171" rx="7" ry="3" fill="#e9a020" opacity=".7"/></g>
</g></g>
<g transform="translate(172.5,560.9) scale(0.9846,0.9973)"><g clip-path="url(#cS)"><use xlink:href="#bS"/>
<g filter="url(#f2)" opacity=".6"><use xlink:href="#s2" fill="#5a2ab5" stroke="#5a2ab5" stroke-width="9"/><ellipse cx="60" cy="160" rx="18" ry="3" fill="#5a2ab5"/></g>
<g filter="url(#f1)" stroke-linejoin="round"><use xlink:href="#s2" fill="#1d3cf0" stroke="#1d3cf0" stroke-width="4.5"/><use xlink:href="#s2" fill="#1fc43a" stroke="#1fc43a" stroke-width="2.6"/><use xlink:href="#s2" fill="#dfe21f" stroke="#dfe21f" stroke-width="1.2"/><use xlink:href="#s2" fill="#e4401c"/>
<ellipse cx="110" cy="150" rx="8" ry="9" fill="#f09020" opacity=".8"/><ellipse cx="100" cy="163" rx="6" ry="4" fill="#c8d028" opacity=".7"/><ellipse cx="118" cy="162" rx="3" ry="3" fill="#40c040"/></g>
</g></g>
<g transform="translate(319.2,560.9) scale(0.9902,0.9973)"><g clip-path="url(#cS)"><use xlink:href="#bS"/>
<g filter="url(#f2)" opacity=".6"><use xlink:href="#s3" fill="#5a2ab5" stroke="#5a2ab5" stroke-width="9"/><ellipse cx="55" cy="150" rx="14" ry="3" fill="#5a2ab5"/><ellipse cx="65" cy="159" rx="20" ry="2.5" fill="#5a2ab5"/></g>
<g filter="url(#f1)" stroke-linejoin="round"><use xlink:href="#s3" fill="#1d3cf0" stroke="#1d3cf0" stroke-width="4.5"/><use xlink:href="#s3" fill="#1fc43a" stroke="#1fc43a" stroke-width="2.6"/><use xlink:href="#s3" fill="#dfe21f" stroke="#dfe21f" stroke-width="1.2"/><use xlink:href="#s3" fill="#ef6a1e"/>
<ellipse cx="112" cy="145" rx="6" ry="6" fill="#e2321c"/><ellipse cx="105" cy="160" rx="6" ry="5" fill="#e0c020"/><ellipse cx="120" cy="160" rx="4" ry="4" fill="#40c040"/><ellipse cx="95" cy="163" rx="5" ry="3" fill="#e8d020"/></g>
</g></g>
<g transform="translate(466.8,560.9) scale(0.986,0.9973)"><g clip-path="url(#cS)"><use xlink:href="#bS"/>
<g filter="url(#f2)" opacity=".6"><use xlink:href="#s4" fill="#5a2ab5" stroke="#5a2ab5" stroke-width="9"/><ellipse cx="55" cy="150" rx="14" ry="3" fill="#5a2ab5"/><ellipse cx="65" cy="159" rx="20" ry="2.5" fill="#5a2ab5"/></g>
<g filter="url(#f1)" stroke-linejoin="round"><use xlink:href="#s4" fill="#1d3cf0" stroke="#1d3cf0" stroke-width="4.5"/><use xlink:href="#s4" fill="#1fc43a" stroke="#1fc43a" stroke-width="2.6"/><use xlink:href="#s4" fill="#dfe21f" stroke="#dfe21f" stroke-width="1.2"/><use xlink:href="#s4" fill="#f08a22"/>
<ellipse cx="110" cy="145" rx="5" ry="5" fill="#e6401c"/><ellipse cx="102" cy="160" rx="6" ry="4" fill="#e0d020"/><ellipse cx="108" cy="168" rx="6" ry="2.5" fill="#2040f0"/><ellipse cx="118" cy="155" rx="3" ry="5" fill="#a0d030"/></g>
</g></g>
<g transform="translate(614,560.9) scale(0.979,0.9973)"><g clip-path="url(#cS)"><use xlink:href="#bS"/>
<g filter="url(#f2)" opacity=".6"><use xlink:href="#s5" fill="#5a2ab5" stroke="#5a2ab5" stroke-width="9"/><ellipse cx="55" cy="150" rx="14" ry="3" fill="#5a2ab5"/><ellipse cx="65" cy="159" rx="20" ry="2.5" fill="#5a2ab5"/></g>
<g filter="url(#f1)" stroke-linejoin="round"><use xlink:href="#s5" fill="#1d3cf0" stroke="#1d3cf0" stroke-width="4.5"/><use xlink:href="#s5" fill="#1fc43a" stroke="#1fc43a" stroke-width="2.6"/><use xlink:href="#s5" fill="#d8c820"/>
<ellipse cx="106" cy="142" rx="6" ry="4" fill="#f07020"/><ellipse cx="100" cy="160" rx="6" ry="4" fill="#60c830"/><ellipse cx="110" cy="153" rx="3" ry="4" fill="#f0a020"/></g>
</g></g>
<g transform="translate(760,560.9) scale(1.0014,0.9973)"><g clip-path="url(#cS)"><use xlink:href="#bS"/>
<g filter="url(#f2)" opacity=".6"><use xlink:href="#s6" fill="#5a2ab5" stroke="#5a2ab5" stroke-width="9"/><ellipse cx="55" cy="150" rx="14" ry="3" fill="#5a2ab5"/><ellipse cx="65" cy="159" rx="20" ry="2.5" fill="#5a2ab5"/></g>
<g filter="url(#f1)" stroke-linejoin="round"><use xlink:href="#s6" fill="#1d3cf0" stroke="#1d3cf0" stroke-width="4.5"/><use xlink:href="#s6" fill="#1fc43a" stroke="#1fc43a" stroke-width="2.6"/><use xlink:href="#s6" fill="#c9d225"/>
<ellipse cx="112" cy="142" rx="6" ry="5" fill="#f08020"/><ellipse cx="100" cy="162" rx="6" ry="4" fill="#40c040"/><ellipse cx="115" cy="156" rx="4" ry="4" fill="#e0b020"/></g>
</g></g>

<!-- Row 2 DGP -->
<g transform="translate(23,789.2) scale(1.0035,1)"><g clip-path="url(#cD)"><use xlink:href="#bD"/>
<g filter="url(#f2)"><ellipse cx="28" cy="172" rx="14" ry="16" fill="#4a2aa0" opacity=".5"/><ellipse cx="29.5" cy="176" rx="8" ry="8" fill="#2a2ad0" opacity=".85"/><use xlink:href="#dg" fill="#5a2ab5" stroke="#5a2ab5" stroke-width="9" opacity=".6"/></g>
<g filter="url(#f1)" stroke-linejoin="round"><use xlink:href="#dg" fill="#1d3cf0" stroke="#1d3cf0" stroke-width="4.5"/><use xlink:href="#dg" fill="#1fc43a" stroke="#1fc43a" stroke-width="2.6"/><use xlink:href="#dg" fill="#dfe21f" stroke="#dfe21f" stroke-width="1.2"/><use xlink:href="#dg" fill="#e2321c"/><ellipse cx="88" cy="128" rx="5" ry="5" fill="#ec5a1e" opacity=".6"/></g>
</g></g>
<g transform="translate(172.5,789.2) scale(0.9846,1)"><g clip-path="url(#cD)"><use xlink:href="#bD"/>
<g filter="url(#f2)"><ellipse cx="28" cy="165" rx="13" ry="19" fill="#4a2aa0" opacity=".5"/><ellipse cx="29.5" cy="172" rx="6" ry="9" fill="#2a2ad0" opacity=".6"/><use xlink:href="#dg" fill="#5a2ab5" stroke="#5a2ab5" stroke-width="9" opacity=".6"/></g>
<g filter="url(#f1)" stroke-linejoin="round"><use xlink:href="#dg" fill="#1d3cf0" stroke="#1d3cf0" stroke-width="4.5"/><use xlink:href="#dg" fill="#1fc43a" stroke="#1fc43a" stroke-width="2.6"/><use xlink:href="#dg" fill="#dfe21f" stroke="#dfe21f" stroke-width="1.2"/><use xlink:href="#dg" fill="#e2321c"/><ellipse cx="88" cy="128" rx="5" ry="5" fill="#ec5a1e" opacity=".6"/></g>
</g></g>
<g transform="translate(319.2,789.2) scale(0.9902,1)"><g clip-path="url(#cD)"><use xlink:href="#bD"/>
<g filter="url(#f2)"><ellipse cx="28" cy="172" rx="14" ry="16" fill="#4a2aa0" opacity=".5"/><ellipse cx="29.5" cy="178" rx="8" ry="6" fill="#2a2ad0" opacity=".8"/><use xlink:href="#dg" fill="#5a2ab5" stroke="#5a2ab5" stroke-width="9" opacity=".6"/></g>
<g filter="url(#f1)" stroke-linejoin="round"><ellipse cx="28" cy="178" rx="2" ry="1.5" fill="#30c040"/><use xlink:href="#dg" fill="#1d3cf0" stroke="#1d3cf0" stroke-width="4.5"/><use xlink:href="#dg" fill="#1fc43a" stroke="#1fc43a" stroke-width="2.6"/><use xlink:href="#dg" fill="#dfe21f" stroke="#dfe21f" stroke-width="1.2"/><use xlink:href="#dg" fill="#e2321c"/></g>
</g></g>
<g transform="translate(466.8,789.2) scale(0.986,1)"><g clip-path="url(#cD)"><use xlink:href="#bD"/>
<g filter="url(#f2)"><ellipse cx="28" cy="172" rx="14" ry="16" fill="#4a2aa0" opacity=".5"/><ellipse cx="29.5" cy="178" rx="9" ry="7" fill="#2a2ad0" opacity=".8"/><use xlink:href="#dg" fill="#5a2ab5" stroke="#5a2ab5" stroke-width="9" opacity=".6"/></g>
<g filter="url(#f1)" stroke-linejoin="round"><ellipse cx="27" cy="178" rx="2.5" ry="2" fill="#30c040"/><use xlink:href="#dg" fill="#1d3cf0" stroke="#1d3cf0" stroke-width="4.5"/><use xlink:href="#dg" fill="#1fc43a" stroke="#1fc43a" stroke-width="2.6"/><use xlink:href="#dg" fill="#dfe21f" stroke="#dfe21f" stroke-width="1.2"/><use xlink:href="#dg" fill="#e2321c"/></g>
</g></g>
<g transform="translate(614,789.2) scale(0.979,1)"><g clip-path="url(#cD)"><use xlink:href="#bD"/>
<g filter="url(#f2)"><ellipse cx="28" cy="170" rx="14" ry="16" fill="#4a2aa0" opacity=".5"/><ellipse cx="29.5" cy="178" rx="9" ry="7" fill="#2a2ad0" opacity=".8"/><use xlink:href="#dg" fill="#5a2ab5" stroke="#5a2ab5" stroke-width="9" opacity=".6"/></g>
<g filter="url(#f1)" stroke-linejoin="round"><ellipse cx="26" cy="176" rx="2.5" ry="2" fill="#c0e020"/><use xlink:href="#dg" fill="#1d3cf0" stroke="#1d3cf0" stroke-width="4.5"/><use xlink:href="#dg" fill="#1fc43a" stroke="#1fc43a" stroke-width="2.6"/><use xlink:href="#dg" fill="#dfe21f" stroke="#dfe21f" stroke-width="1.2"/><use xlink:href="#dg" fill="#e2321c"/></g>
</g></g>
<g transform="translate(760,789.2) scale(1.0014,1)"><g clip-path="url(#cD)"><use xlink:href="#bD"/>
<g filter="url(#f2)"><ellipse cx="28" cy="170" rx="14" ry="16" fill="#4a2aa0" opacity=".5"/><ellipse cx="29.5" cy="178" rx="8" ry="6" fill="#2a2ad0" opacity=".7"/><use xlink:href="#dg" fill="#5a2ab5" stroke="#5a2ab5" stroke-width="9" opacity=".6"/></g>
<g filter="url(#f1)" stroke-linejoin="round"><use xlink:href="#dg" fill="#1d3cf0" stroke="#1d3cf0" stroke-width="4.5"/><use xlink:href="#dg" fill="#1fc43a" stroke="#1fc43a" stroke-width="2.6"/><use xlink:href="#dg" fill="#dfe21f" stroke="#dfe21f" stroke-width="1.2"/><use xlink:href="#dg" fill="#e2321c"/><ellipse cx="88" cy="128" rx="5" ry="5" fill="#ee7a20" opacity=".6"/></g>
</g></g>

<!-- Row 3 EA -->
<g transform="translate(23,1016.3) scale(1.0035,1)"><g clip-path="url(#cE)"><use xlink:href="#bE"/>
<g filter="url(#f2)" opacity=".6"><use xlink:href="#e1" fill="#5a2ab5" stroke="#5a2ab5" stroke-width="9"/><ellipse cx="63.3" cy="141.4" rx="6" ry="4" fill="#3030e0"/></g>
<g filter="url(#f1)"><use xlink:href="#e1" fill="#1d3cf0" stroke="#1d3cf0" stroke-width="4.5"/><use xlink:href="#e1" fill="#1fc43a" stroke="#1fc43a" stroke-width="2.6"/><use xlink:href="#e1" fill="#dfe21f" stroke="#dfe21f" stroke-width="1.2"/><use xlink:href="#e1" fill="#e2321c"/></g>
</g></g>
<g transform="translate(172.5,1016.3) scale(0.9846,1)"><g clip-path="url(#cE)"><use xlink:href="#bE"/>
<g filter="url(#f2)" opacity=".6"><use xlink:href="#e1" fill="#5a2ab5" stroke="#5a2ab5" stroke-width="9"/><ellipse cx="63.3" cy="141.4" rx="6" ry="4" fill="#5a2ab5"/></g>
<g filter="url(#f1)"><use xlink:href="#e1" fill="#1d3cf0" stroke="#1d3cf0" stroke-width="4.5"/><use xlink:href="#e1" fill="#1fc43a" stroke="#1fc43a" stroke-width="2.6"/><use xlink:href="#e1" fill="#dfe21f" stroke="#dfe21f" stroke-width="1.2"/><use xlink:href="#e1" fill="#e2321c"/></g>
</g></g>
<g transform="translate(319.2,1016.3) scale(0.9902,1)"><g clip-path="url(#cE)"><use xlink:href="#bE"/>
<g filter="url(#f2)" opacity=".6"><use xlink:href="#e1" fill="#5a2ab5" stroke="#5a2ab5" stroke-width="9"/><ellipse cx="63.3" cy="141.4" rx="6" ry="4" fill="#5a2ab5"/></g>
<g filter="url(#f1)"><use xlink:href="#e1" fill="#1d3cf0" stroke="#1d3cf0" stroke-width="4.5"/><use xlink:href="#e1" fill="#1fc43a" stroke="#1fc43a" stroke-width="2.6"/><use xlink:href="#e1" fill="#dfe21f" stroke="#dfe21f" stroke-width="1.2"/><use xlink:href="#e1" fill="#e2321c"/></g>
</g></g>
<g transform="translate(466.8,1016.3) scale(0.986,1)"><g clip-path="url(#cE)"><use xlink:href="#bE"/>
<g filter="url(#f2)" opacity=".6"><use xlink:href="#e4" fill="#5a2ab5" stroke="#5a2ab5" stroke-width="9"/><ellipse cx="63.3" cy="141.4" rx="6" ry="4" fill="#5a2ab5"/></g>
<g filter="url(#f1)"><use xlink:href="#e4" fill="#1d3cf0" stroke="#1d3cf0" stroke-width="4.5"/><use xlink:href="#e4" fill="#1fc43a" stroke="#1fc43a" stroke-width="2.6"/><use xlink:href="#e4" fill="#dfe21f" stroke="#dfe21f" stroke-width="1.2"/><use xlink:href="#e4" fill="#e2321c"/>
<ellipse cx="106" cy="93" rx="8" ry="4" fill="#f08a22"/><ellipse cx="111" cy="87" rx="3.5" ry="3" fill="#e0d020"/></g>
</g></g>
<g transform="translate(614,1016.3) scale(0.979,1)"><g clip-path="url(#cE)"><use xlink:href="#bE"/>
<g filter="url(#f2)" opacity=".6"><use xlink:href="#e5" fill="#5a2ab5" stroke="#5a2ab5" stroke-width="9"/><ellipse cx="63.3" cy="141.4" rx="6" ry="4" fill="#5a2ab5"/></g>
<g filter="url(#f1)"><use xlink:href="#e5" fill="#1d3cf0" stroke="#1d3cf0" stroke-width="4.5"/><use xlink:href="#e5" fill="#1fc43a" stroke="#1fc43a" stroke-width="2.6"/><use xlink:href="#e5" fill="#dfe21f" stroke="#dfe21f" stroke-width="1.2"/><use xlink:href="#e5" fill="#e8481c"/>
<ellipse cx="107" cy="92" rx="8" ry="5.5" fill="#d8d020"/><ellipse cx="108" cy="93" rx="4.5" ry="3" fill="#1fc43a"/><ellipse cx="96" cy="87" rx="4" ry="3" fill="#f09020"/></g>
</g></g>
<g transform="translate(760,1016.3) scale(1.0014,1)"><g clip-path="url(#cE)"><use xlink:href="#bE"/>
<g filter="url(#f2)" opacity=".6"><use xlink:href="#e6" fill="#5a2ab5" stroke="#5a2ab5" stroke-width="9"/><ellipse cx="63.3" cy="141.4" rx="6" ry="4" fill="#5a2ab5"/></g>
<g filter="url(#f1)"><use xlink:href="#e6" fill="#1d3cf0" stroke="#1d3cf0" stroke-width="4.5"/><use xlink:href="#e6" fill="#1fc43a" stroke="#1fc43a" stroke-width="2.6"/><use xlink:href="#e6" fill="#e0a020"/>
<ellipse cx="108" cy="95" rx="9" ry="6" fill="#1fc43a"/><ellipse cx="109" cy="95" rx="5.5" ry="4" fill="#1d3cf0"/><ellipse cx="96" cy="92" rx="4" ry="3" fill="#e8c020"/><ellipse cx="104" cy="86" rx="5" ry="2.5" fill="#e86020"/></g>
</g></g>

<!-- colorbar -->
<rect x="914.3" y="573.7" width="65.2" height="656.6" fill="#000" stroke="#777" stroke-width="0.8"/>
<rect x="933.6" y="587.5" width="10" height="613" fill="url(#cb)"/>
<text x="946" y="588.4" font-family="DejaVu Sans,sans-serif" font-weight="bold" font-style="italic" font-size="8.5" fill="#fff" textLength="16" lengthAdjust="spacingAndGlyphs">30.0</text>
<text x="946.8" y="1221" font-family="DejaVu Sans,sans-serif" font-weight="bold" font-style="italic" font-size="8.5" fill="#fff" textLength="13" lengthAdjust="spacingAndGlyphs">0.0</text>

<!-- ============ H ============ -->
<text class="pl" x="1" y="1271" font-size="19">H</text>
<g clip-path="url(#cH)">
<rect x="22.9" y="1253.7" width="262.6" height="313.8" fill="#000"/>
<rect x="32.7" y="1253.7" width="7.7" height="313.8" fill="#2a2a2a"/>
<rect x="276" y="1253.7" width="7.8" height="313.8" fill="#2a2a2a"/>
<polygon fill="#424242" points="65.5,1254.3 52.4,1268.8 42.6,1295.9 43.7,1331.2 50.2,1366.6 46.9,1387.4 52.4,1418.6 54.6,1449.8 52.4,1481 50.2,1512.2 52.4,1567.5 262,1567.5 255.4,1512.2 240.1,1470.6 224.9,1439.4 213.9,1408.2 204.1,1377 196.5,1350 207.4,1329.2 209.6,1298 196.5,1273 181.2,1254.3"/>
<polygon fill="#080808" points="92,1322 102,1305 122,1312 120,1385 95,1385"/>
<polygon fill="#080808" points="142,1320 158,1322 166,1380 148,1375"/>
<ellipse cx="132" cy="1360" rx="16" ry="24" fill="#4a4a4a"/>
<polygon fill="#9a9a9a" points="66,1266 80,1262 83,1272 70,1300 66,1296"/>
<path d="M154,1260 L190,1340" stroke="#a0a0a0" stroke-width="7" stroke-linecap="round"/>
<polygon fill="#a8a8a8" points="104,1268 115,1262 122,1275 118,1300 106,1298 100,1285"/>
<g fill="#b0b0b0"><circle cx="102" cy="1308" r="1.3"/><circle cx="138" cy="1305" r="1.3"/><circle cx="95" cy="1345" r="1.3"/><circle cx="160" cy="1345" r="1.3"/><circle cx="86" cy="1370" r="1.3"/></g>
<ellipse cx="140" cy="1530" rx="35" ry="32" fill="#2a2a2a"/>
<g fill="#000"><circle cx="125" cy="1515" r="3"/><circle cx="138" cy="1508" r="2.5"/><circle cx="150" cy="1520" r="3.5"/><circle cx="130" cy="1532" r="3"/><circle cx="145" cy="1540" r="2.5"/><circle cx="158" cy="1535" r="2.5"/><circle cx="120" cy="1545" r="2.5"/><circle cx="138" cy="1555" r="3"/><circle cx="160" cy="1552" r="2"/><circle cx="148" cy="1500" r="2"/></g>
<ellipse cx="219" cy="1538" rx="6" ry="9" stroke="#ccc" stroke-width="2" fill="none"/>
<g filter="url(#f2)"><ellipse cx="78" cy="1505" rx="22" ry="45" fill="#5a2ab0" opacity=".45"/><ellipse cx="74" cy="1497" rx="12" ry="28" fill="#3a3ad8" opacity=".6"/></g>
<g filter="url(#f2)" opacity=".6"><use xlink:href="#hb" fill="#5a2ab5" stroke="#5a2ab5" stroke-width="9"/></g>
<g filter="url(#f1)" stroke-linejoin="round"><use xlink:href="#hb" fill="#1d3cf0" stroke="#1d3cf0" stroke-width="4.5"/><use xlink:href="#hb" fill="#1fc43a" stroke="#1fc43a" stroke-width="2.8"/><use xlink:href="#hb" fill="#dfe21f" stroke="#dfe21f" stroke-width="1.4"/><use xlink:href="#hb" fill="#d8321c"/>
<ellipse cx="188" cy="1462" rx="11" ry="7" fill="#d0d020" opacity=".6"/><ellipse cx="160" cy="1480" rx="14" ry="4" fill="#d0d020" opacity=".5"/></g>
<use xlink:href="#hb" fill="none" stroke="#ff40ff" stroke-width=".8" transform="translate(161,1457) scale(1.04) translate(-161,-1457)"/>
<g fill="#30e030"><circle cx="127.7" cy="1449.2" r="1.1"/><circle cx="139.7" cy="1450.8" r="1.1"/><circle cx="155.4" cy="1451.5" r="1.1"/><circle cx="161.5" cy="1430.7" r="1.1"/><circle cx="179" cy="1425.9" r="1.1"/><circle cx="196" cy="1430" r="1.1"/><circle cx="205.2" cy="1440.4" r="1.1"/><circle cx="200.8" cy="1462.3" r="1.1"/><circle cx="181.2" cy="1479.5" r="1.1"/><circle cx="140.8" cy="1482.5" r="1.1"/><circle cx="124.4" cy="1472.3" r="1.1"/><circle cx="121.2" cy="1458.1" r="1.1"/></g>
<rect x="111.8" y="1421.2" width="101.2" height="60.7" fill="none" stroke="#d11a1a" stroke-width="3.2"/>
</g>

<!-- ============ I ============ -->
<text x="335.9" y="1271" font-family="Liberation Serif,serif" font-weight="bold" font-size="19" fill="#221e1f">I</text>
<g stroke-width="1.6">
<line x1="587.1" y1="1280.7" x2="605.9" y2="1280.7" stroke="#f7811f"/><circle cx="596.5" cy="1280.7" r="2.4" fill="#f7811f"/>
<line x1="587.1" y1="1301.7" x2="605.9" y2="1301.7" stroke="#1c95b6"/><rect x="594" y="1299.2" width="5" height="5" fill="#1c95b6"/>
<line x1="587.1" y1="1322.5" x2="605.9" y2="1322.5" stroke="#127a1a"/><polygon points="596.5,1319.5 599.4,1324.6 593.6,1324.6" fill="#127a1a"/>
</g>
<text class="t" x="613.5" y="1285.5" font-size="14" textLength="35.6" lengthAdjust="spacingAndGlyphs">Sham</text>
<text class="t" x="613.5" y="1306.5" font-size="14" textLength="27.2" lengthAdjust="spacingAndGlyphs">DGP</text>
<text class="t" x="613.5" y="1327.3" font-size="14" textLength="16.3" lengthAdjust="spacingAndGlyphs">EA</text>
<path d="M388.2,1331.7V1511 M388.2,1511H651.2" stroke="#111" stroke-width="1.8" fill="none"/>
<path d="M383.5,1331.7H388.2M383.5,1391.4H388.2M383.5,1451.1H388.2 M388.2,1511V1517.5M437,1511V1517.5M485.8,1511V1517.5M534.7,1511V1517.5M583.5,1511V1517.5M632.3,1511V1517.5" stroke="#111" stroke-width="1.6"/>
<g class="t" font-size="14" text-anchor="end"><text x="374.4" y="1336.7">25</text><text x="374.4" y="1396.4">20</text><text x="374.4" y="1456.1">15</text><text x="374.4" y="1515.7">10</text></g>
<g class="t" font-size="13" text-anchor="middle">
<text x="386.5" y="1531" textLength="15.9" lengthAdjust="spacingAndGlyphs">0 s</text>
<text x="437" y="1531" textLength="30" lengthAdjust="spacingAndGlyphs">600 s</text>
<text x="485.8" y="1531" textLength="36" lengthAdjust="spacingAndGlyphs">1200 s</text>
<text x="534.7" y="1531" textLength="36" lengthAdjust="spacingAndGlyphs">1800 s</text>
<text x="583.5" y="1531" textLength="36" lengthAdjust="spacingAndGlyphs">2400 s</text>
<text x="636" y="1531" textLength="36" lengthAdjust="spacingAndGlyphs">3000 s</text>
</g>
<text class="v" transform="translate(348,1429) rotate(-90)" font-size="12.5" text-anchor="middle" textLength="237.2" lengthAdjust="spacingAndGlyphs">Radioactivity concentration (MBq/mL)</text>
<polyline fill="none" stroke="#f7811f" stroke-width="1.6" marker-start="url(#mO)" marker-mid="url(#mO)" marker-end="url(#mO)" points="388.2,1387.8 437,1411.1 485.8,1426.7 534.7,1455.3 583.5,1474.6 632.3,1498.2"/>
<polyline fill="none" stroke="#1c95b6" stroke-width="1.6" marker-start="url(#mB)" marker-mid="url(#mB)" marker-end="url(#mB)" points="388.2,1398.9 437,1402.8 485.8,1416.4 534.7,1424.7 583.5,1433.1 632.3,1442.9"/>
<polyline fill="none" stroke="#127a1a" stroke-width="1.6" marker-start="url(#mG)" marker-mid="url(#mG)" marker-end="url(#mG)" points="388.2,1395.1 437,1404.9 485.8,1421.6 534.7,1435.1 583.5,1450.8 632.3,1474.6"/>

<!-- ============ J ============ -->
<text class="pl" x="724.4" y="1271" font-size="19">J</text>
<rect x="797.7" y="1412.4" width="36.4" height="105.4" fill="#c1271f"/>
<rect x="862.2" y="1361" width="36" height="156.8" fill="#000"/>
<rect x="926.2" y="1389.5" width="36.5" height="128.3" fill="#4e89b2"/>
<path d="M815.9,1412.4V1411M808.5,1411H823.3 M880.2,1361V1359.5M873,1359.5H887.4 M944.4,1389.5V1388M937,1388H951.8" stroke="#111" stroke-width="1.2"/>
<path d="M778.9,1322.9V1517.8 M773.4,1517.8H972.3" stroke="#111" stroke-width="1.8" fill="none"/>
<path d="M773.4,1322.9H778.9M773.4,1361.9H778.9M773.4,1400.9H778.9M773.4,1439.8H778.9M773.4,1478.8H778.9 M815.3,1517.8V1524M880.2,1517.8V1524M944.2,1517.8V1524" stroke="#111" stroke-width="1.6"/>
<g class="t" font-size="14" text-anchor="end"><text x="769.2" y="1327.9">100</text><text x="769.2" y="1366.9">80</text><text x="769.2" y="1405.9">60</text><text x="769.2" y="1444.8">40</text><text x="769.2" y="1483.8">20</text><text x="769.2" y="1522.8">0</text></g>
<g class="t" font-size="14" text-anchor="middle"><text x="815.3" y="1539.7">Sham</text><text x="880.2" y="1539.7">DGP</text><text x="944.2" y="1539.7">EA</text></g>
<path d="M811.1,1352.7H873.9M883.1,1353.5H946.3" stroke="#111" stroke-width="2.2"/>
<g class="t" font-size="14" text-anchor="middle"><text x="840.4" y="1345.8">a</text><text x="912.4" y="1345.8">a</text></g>
<text class="v" transform="translate(739.5,1421.7) rotate(-90)" font-size="12.5" text-anchor="middle" textLength="122.6" lengthAdjust="spacingAndGlyphs">3600 s GER (t) (%)</text>
</svg>
</body></html>
